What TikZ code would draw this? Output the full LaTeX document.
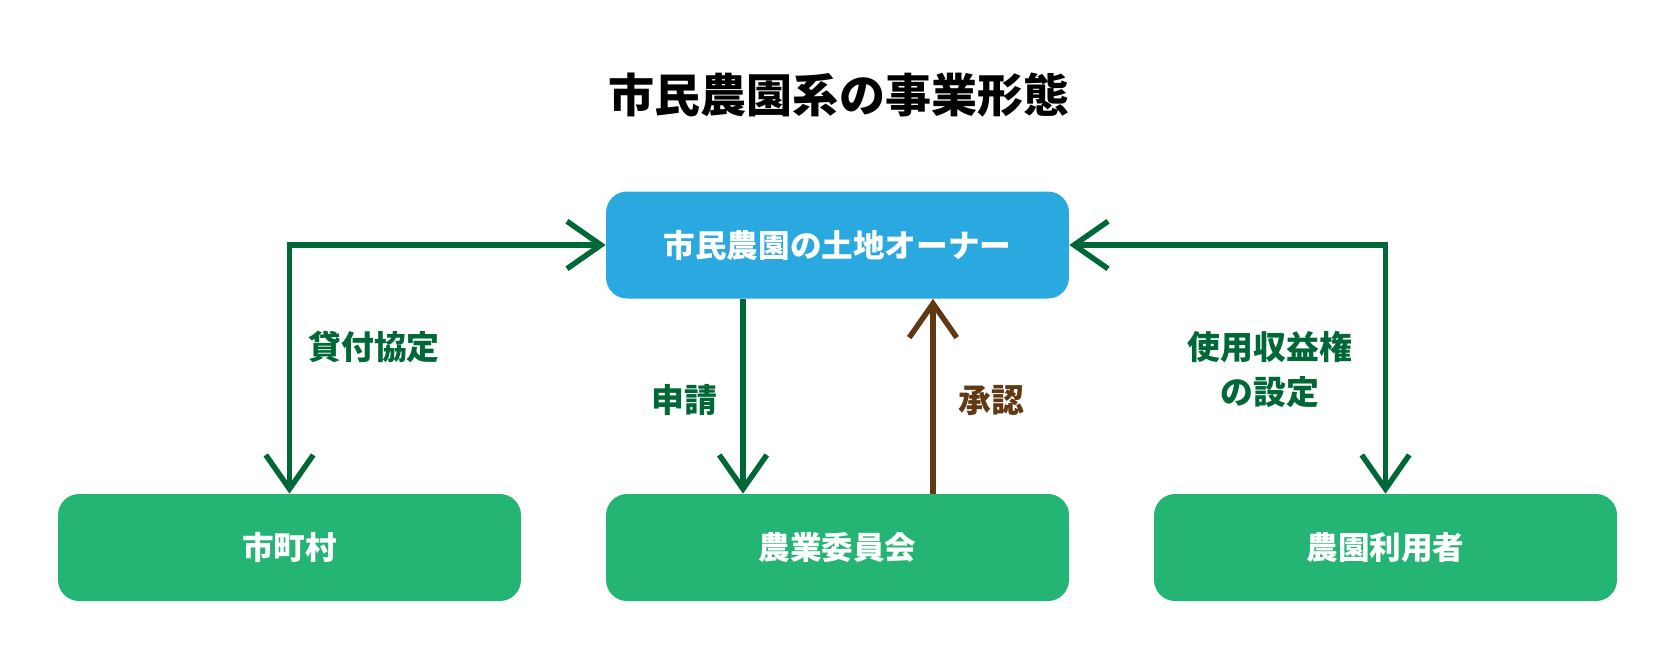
\documentclass[tikz,border=0pt]{standalone}
\usepackage{fontspec}
\setmainfont{Noto Sans CJK JP}
\usepackage{tikz}
\usetikzlibrary{arrows.meta}
\usetikzlibrary{positioning}
\definecolor{mblue}{RGB}{41, 169, 224}
\definecolor{mgreen}{RGB}{36, 181, 116}
\definecolor{mdkgreen}{RGB}{0, 104, 55}
\definecolor{mbrown}{RGB}{96, 56, 19}
\tikzset{
    unit/.style = {fill=mgreen, rounded corners=0.42cm, minimum width=9.26cm, minimum height=2.14cm,
        text=white, font=\bfseries\fontsize{18}{22}\selectfont},
    owner/.style = {unit, fill=mblue},
    link/.style = {draw=mdkgreen, line width=3.1pt, >={Straight Barb[length=0.68cm, width=0.95cm]}},
    tag/.style = {text=mdkgreen, font=\bfseries\fontsize{18.7}{25.5}\selectfont},
}

\begin{document}
\begin{tikzpicture}[x=0.02cm, y=-0.02cm]
    \useasboundingbox (0, 0) rectangle (1679, 657);

    \node [font=\bfseries\fontsize{26.2}{32}\selectfont] (title) at (839, 95) {市民農園系の事業形態};

    \node [owner] (owner) at (837.5, 245) {市民農園の土地オーナー};
    \node [unit] (city) at (289.5, 547.5) {市町村};
    \node [unit] (committee) at (837.5, 547.5) {農業委員会};
    \node [unit] (user) at (1385.5, 547.5) {農園利用者};

    \coordinate (apply) at (743, 0);
    \coordinate (approve) at (933, 0);

    \draw [link, <->] (owner.west) -| (city.north);
    \draw [link, <->] (owner.east) -| (user.north);
    \draw [link, ->] (owner.south -| apply) -- (committee.north -| apply);
    \draw [link, draw=mbrown, ->] (committee.north -| approve) -- (owner.south -| approve);

    \node [tag] (lend) at (374, 347) {貸付協定};
    \node [tag] (apply text) at (684, 400) {申請};
    \node [tag, text=mbrown] (approve text) at (991, 400) {承認};
    \node [tag, align=center] (right) at (1270, 369.5) {使用収益権\\の設定};
\end{tikzpicture}
\end{document}
